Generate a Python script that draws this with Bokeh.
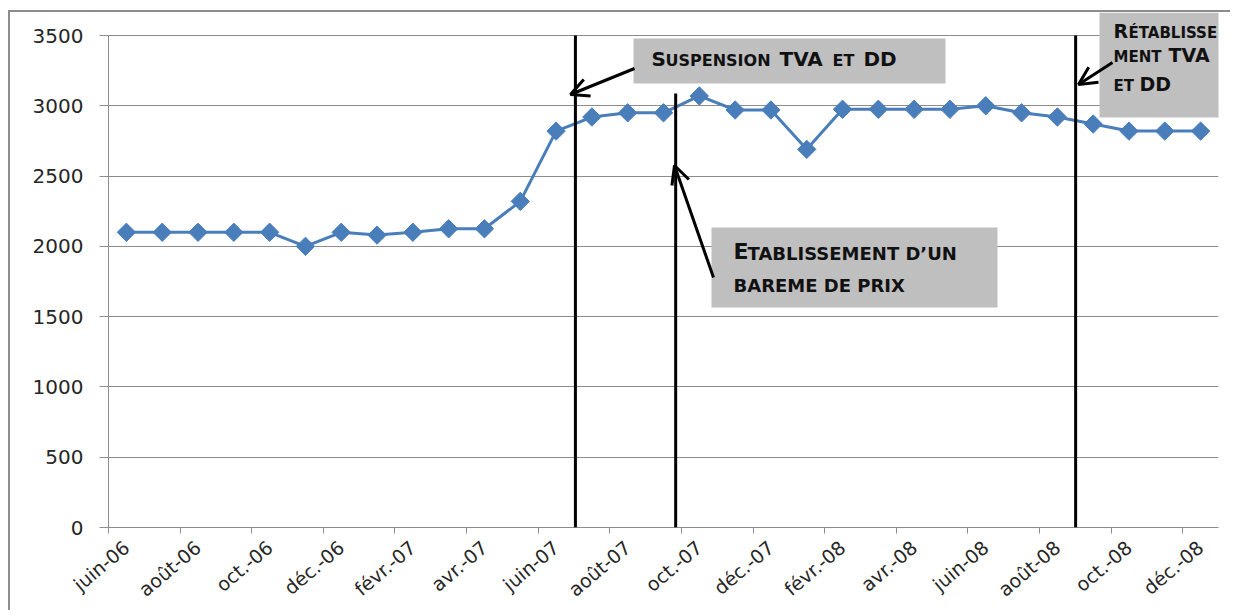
from bokeh.plotting import figure
from bokeh.models import Range1d, FixedTicker, Arrow, OpenHead, BoxAnnotation, Label
from bokeh.embed import file_html
from bokeh.resources import INLINE

# ---------------- data ----------------
months = ["juin-06", "juil.-06", "août-06", "sept.-06", "oct.-06", "nov.-06", "déc.-06",
          "janv.-07", "févr.-07", "mars-07", "avr.-07", "mai-07", "juin-07", "juil.-07",
          "août-07", "sept.-07", "oct.-07", "nov.-07", "déc.-07", "janv.-08", "févr.-08",
          "mars-08", "avr.-08", "mai-08", "juin-08", "juil.-08", "août-08", "sept.-08",
          "oct.-08", "nov.-08", "déc.-08"]
prices = [2100, 2100, 2100, 2100, 2100, 2000, 2100, 2080, 2100, 2125, 2125, 2320, 2820, 2920,
          2950, 2950, 3070, 2970, 2970, 2690, 2975, 2975, 2975, 2975, 3000, 2950, 2920, 2870,
          2820, 2820, 2820]
y_ticks = [0, 500, 1000, 1500, 2000, 2500, 3000, 3500]
label_step = 2
# event markers (in category units): suspension, barème, rétablissement
events = [12.54, 15.34, 26.51]

idx = list(range(len(months)))

# page geometry of the plotting area (pixels)
FR_L, FR_R, Y0_PX, YTOP_PX = 108, 1218, 527, 35
PX_CAT = (FR_R - FR_L) / len(months)
PX_VAL = (Y0_PX - YTOP_PX) / 3500
CANVAS_X, CANVAS_Y = 10, 12           # after css margin + border
W, H = 1222, 600
y_end = 3500 + (YTOP_PX - CANVAS_Y) / PX_VAL

# ---------------- figure ----------------
p = figure(width=W, height=H, title=None, x_range=Range1d(-0.5, len(months) - 0.5),
           y_range=Range1d(0, y_end), output_backend="svg", toolbar_location=None,
           min_border_left=FR_L - CANVAS_X, min_border_right=CANVAS_X + W - FR_R,
           min_border_top=0, min_border_bottom=CANVAS_Y + H - Y0_PX)
p.styles = {"margin-left": "8px", "margin-top": "10px",
            "border-left": "2px solid #8c8c8c", "border-top": "2px solid #8c8c8c"}
p.outline_line_color = None
p.background_fill_color = "white"
p.border_fill_color = "white"
p.xgrid.visible = False
p.ygrid.ticker = FixedTicker(ticks=y_ticks)
p.ygrid.grid_line_color = "#8c8c8c"
p.ygrid.grid_line_width = 1

# y axis
p.yaxis.ticker = FixedTicker(ticks=y_ticks)
p.yaxis.bounds = (0, 3500)
p.yaxis.axis_line_color = "#8c8c8c"
p.yaxis.major_tick_line_color = "#8c8c8c"
p.yaxis.major_tick_out = 9
p.yaxis.major_tick_in = 0
p.yaxis.minor_tick_line_color = None
p.yaxis.major_label_standoff = 16
p.yaxis.major_label_text_font = "DejaVu Sans"
p.yaxis.major_label_text_font_size = "20px"
p.yaxis.major_label_text_color = "#262626"

# x axis: labels at category centres, tick marks at category boundaries
p.xaxis.ticker = FixedTicker(ticks=idx[::label_step],
                             minor_ticks=[i - 0.5 for i in idx[::label_step]])
p.xaxis.major_label_overrides = {i: months[i] for i in idx[::label_step]}
p.xaxis.axis_line_color = "#8c8c8c"
p.xaxis.major_tick_line_color = None
p.xaxis.major_tick_out = 0
p.xaxis.major_tick_in = 0
p.xaxis.minor_tick_line_color = "#8c8c8c"
p.xaxis.minor_tick_out = 6
p.xaxis.minor_tick_in = 0
p.xaxis.major_label_orientation = 0.70
p.xaxis.major_label_standoff = 11
p.xaxis.major_label_text_font = "DejaVu Sans"
p.xaxis.major_label_text_font_size = "19px"
p.xaxis.major_label_text_color = "#262626"

# data series
p.line(idx, prices, line_color="#4a7ebb", line_width=3)
p.scatter(idx, prices, marker="square", angle=0.785398, size=13,
          fill_color="#4a7ebb", line_color="#4a7ebb")


# ---------------- annotation layout helpers (page pixel -> data) ----------------
def dx(px):
    return (px - FR_L) / PX_CAT - 0.5


def dy(py):
    return (Y0_PX - py) / PX_VAL


# event lines
for ex, top in [(events[0], 3500), (events[2], 3500), (events[1], dy(93))]:
    p.add_layout(Arrow(end=None, x_start=ex, y_start=top, x_end=ex, y_end=0,
                       line_color="black", line_width=3))

# grey boxes
for l, r, t, b in [(633, 945, 38, 83), (711, 997, 227, 307), (1099, 1240, 12, 117)]:
    p.add_layout(BoxAnnotation(left=dx(l), right=dx(r), top=dy(t), bottom=dy(b),
                               fill_color="#bfbfbf", fill_alpha=1.0, line_color=None))

# arrows
for (x0, y0, x1, y1) in [(634, 68, 570, 94), (713, 277, 674, 165), (1112, 62, 1078, 84)]:
    p.add_layout(Arrow(end=OpenHead(size=18, line_width=3, line_color="black"),
                       x_start=dx(x0), y_start=dy(y0), x_end=dx(x1), y_end=dy(y1),
                       line_color="black", line_width=3))

# small-caps texts (text, left px, baseline px, size px)
pieces = [
    ("S", 651, 67, 20), ("USPENSION", 665, 67, 16), ("TVA", 779, 67, 20),
    ("ET", 832, 67, 16), ("DD", 863, 67, 20),
    ("E", 733, 261, 22), ("TABLISSEMENT D’UN", 747, 261, 18), ("BAREME DE PRIX", 733, 293, 18),
    ("R", 1113, 39, 19), ("ÉTABLISSE", 1128, 39, 15),
    ("MENT", 1113, 63, 15), ("TVA", 1168, 63, 19),
    ("ET", 1113, 92, 15), ("DD", 1139, 92, 19),
]
for txt, px, py, fs in pieces:
    p.add_layout(Label(x=dx(px), y=dy(py - 0.45 * fs), text=txt, text_font="DejaVu Sans",
                       text_font_style="bold", text_font_size=f"{fs}px", text_color="#111111",
                       text_align="left", text_baseline="alphabetic"))

open("out.html", "w").write(file_html(p, INLINE))
